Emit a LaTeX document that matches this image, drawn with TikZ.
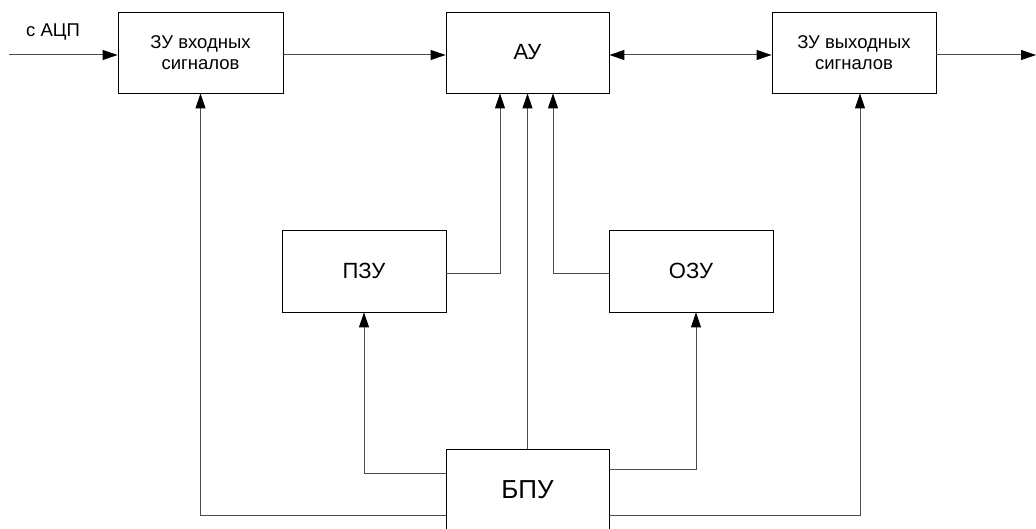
\documentclass[tikz,border=0pt]{standalone}
\usepackage{fontspec}
\setmainfont{Liberation Sans}
\usetikzlibrary{arrows.meta}
\begin{document}
\begin{tikzpicture}[x=1pt,y=-1pt,
  blk/.style={draw=black,line width=0.9pt,fill=white,rectangle,inner sep=0pt,align=center},
  conn/.style={draw=black!70,line width=1pt},
  tip/.tip={Triangle[length=15pt,width=10pt,fill=black,color=black]},
  arr/.style={conn,-tip},
  darr/.style={conn,tip-tip},
  small/.style={font=\fontsize{18.5}{21}\selectfont},
]
\useasboundingbox (0,0) rectangle (1036,529);
\node[blk,small,minimum width=165pt,minimum height=81pt] (zin) at (200.5,52.5) {ЗУ входных\\сигналов};
\node[blk,font=\fontsize{22}{26}\selectfont,minimum width=163pt,minimum height=81pt] (au) at (527.5,52.5) {АУ};
\node[blk,small,minimum width=164pt,minimum height=81pt] (zout) at (854,52.5) {ЗУ выходных\\сигналов};
\node[blk,font=\fontsize{22}{26}\selectfont,minimum width=164pt,minimum height=82pt] (pzu) at (364,271) {ПЗУ};
\node[blk,font=\fontsize{22}{26}\selectfont,minimum width=164pt,minimum height=82pt] (ozu) at (691,271) {ОЗУ};
\node[blk,font=\fontsize{26}{30}\selectfont,minimum width=163pt,minimum height=82pt] (bpu) at (527.5,490) {БПУ};
\node[small,anchor=base west,inner sep=0pt] (adc) at (26,37) {с АЦП};
\coordinate (src) at (9,55);
\coordinate (dst) at (1036,55);
\draw[arr] (src) -- (src -| zin.west);
\draw[arr] (zin.east |- src) -- (au.west |- src);
\draw[darr] (au.east |- src) -- (zout.west |- src);
\draw[arr] (zout.east |- src) -- (dst);
\draw[arr] (bpu.north) -- (au.south);
\draw[arr] (pzu.east |- 0,274) -| ([xshift=-27.5pt]au.south);
\draw[arr] (ozu.west |- 0,274) -| ([xshift=25.5pt]au.south);
\draw[arr] (bpu.west |- 0,473) -| (pzu.south);
\draw[arr] (bpu.east |- 0,469) -| ([xshift=5pt]ozu.south);
\draw[arr] (bpu.west |- 0,515) -| (zin.south);
\draw[arr] (bpu.east |- 0,515) -| ([xshift=6pt]zout.south);
\end{tikzpicture}
\end{document}
